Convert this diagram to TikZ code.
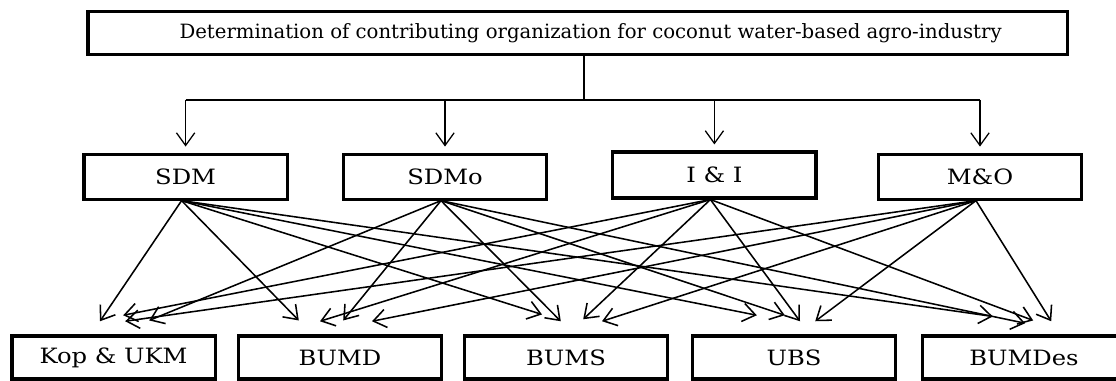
\documentclass[tikz,border=0pt]{standalone}
\usepackage{fontspec}
\setmainfont{DejaVu Serif}
\newfontfamily\boxfont[FakeStretch=1.15]{DejaVu Serif}
\usetikzlibrary{arrows.meta}

\tikzset{
  box/.style={draw, line width=2.2pt, minimum width=5.08cm, minimum height=1.1cm,
    inner sep=2pt, font=\boxfont\fontsize{15}{17}\selectfont},
  conn/.style={line width=1.1pt, -{Straight Barb[length=9pt,width=13pt]}},
}

\begin{document}
\begin{tikzpicture}
\useasboundingbox (0,0) rectangle (27.9,9.525);
% top
\node[box, minimum width=24.48cm, minimum height=1.075cm, font=\fontsize{14}{16}\selectfont] (top) at (14.44,8.69)
  {\hspace*{0.65cm}Determination of contributing organization for coconut water-based agro-industry};
% middle row
\node[box, minimum height=1.125cm] (sdm) at (4.64,5.11) {SDM};
\node[box, minimum height=1.125cm] (sdmo) at (11.125,5.11) {SDMo};
\node[box, minimum height=1.15cm] (ii) at (17.86,5.15) {I \& I};
\node[box, minimum height=1.125cm] (mo) at (24.5,5.11) {M\&O};
% bottom row
\node[box, minimum height=1.075cm] (kop) at (2.84,0.5875) {Kop \& UKM};
\node[box, minimum height=1.075cm] (bumd) at (8.5,0.5875) {BUMD};
\node[box, minimum height=1.075cm] (bums) at (14.15,0.5875) {BUMS};
\node[box, minimum height=1.075cm] (ubs) at (19.85,0.5875) {UBS};
\node[box, minimum height=1.075cm] (bumdes) at (25.6,0.5875) {BUMDes};

\coordinate (split) at (14.6,7.025);
\draw[line width=0.9pt] (split |- top.south) -- (split);
\draw[line width=0.9pt] (sdm.north |- split) -- (mo.north |- split);
\foreach \m in {sdm,sdmo,ii,mo}{
\draw[conn, line width=0.9pt] (\m.north |- split) -- ([yshift=0.15cm]\m.north);}

% every middle box to every bottom box
\foreach \s/\t/\dx/\dy in {sdm/kop/-0.34/0.33, sdmo/kop/0.89/0.35, ii/kop/0.24/0.48, mo/kop/0.29/0.33,
  sdm/bumd/-1.03/0.35, sdmo/bumd/0.08/0.35, ii/bumd/-0.5/0.33, mo/bumd/0.8/0.33,
  sdm/bums/-0.6/0.5, sdmo/bums/-0.13/0.33, ii/bums/0.43/0.38, mo/bums/0.9/0.33,
  sdm/ubs/-0.93/0.48, sdmo/ubs/-0.23/0.48, ii/ubs/0.15/0.33, mo/ubs/0.53/0.33,
  sdm/bumdes/-0.78/0.45, sdmo/bumdes/0.03/0.28, ii/bumdes/0.23/0.35, mo/bumdes/0.68/0.33}{
\draw[conn] ([xshift=-0.1cm]\s.south) -- ([shift={(\dx,\dy)}]\t.north);}
\end{tikzpicture}
\end{document}
